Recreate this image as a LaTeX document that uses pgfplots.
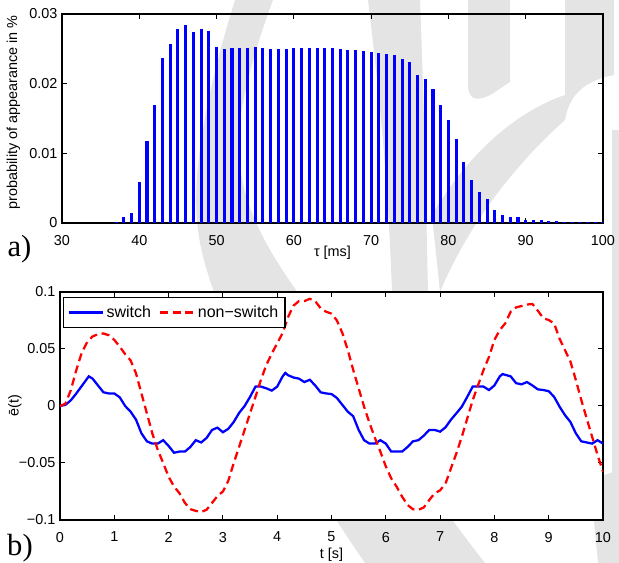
\documentclass[border=0pt]{standalone}
\usepackage{fontspec}
\setmainfont{Liberation Sans}
\newfontfamily\labelserif{Liberation Serif}
\usepackage{pgfplots}
\usepackage{pgfplotstable}
\pgfplotsset{compat=1.18}

\definecolor{wm}{RGB}{228,228,228}
\definecolor{mblue}{RGB}{0,0,255}
\definecolor{mred}{RGB}{255,0,0}

% stem data: tau [ms], probability
\pgfplotstableread{
tau p
30 0.00004
31 0.00004
32 0.00004
33 0.00004
34 0.00004
35 0.00004
36 0.00004
37 0.0001
38 0.00086
39 0.0014
40 0.0059
41 0.0118
42 0.0170
43 0.0237
44 0.0257
45 0.0278
46 0.0284
47 0.0274
48 0.0278
49 0.0275
50 0.0252
51 0.0250
52 0.0251
53 0.0251
54 0.0251
55 0.0252
56 0.0251
57 0.0250
58 0.0250
59 0.0250
60 0.0251
61 0.0251
62 0.0251
63 0.0251
64 0.0251
65 0.0251
66 0.0250
67 0.0249
68 0.0249
69 0.0247
70 0.0245
71 0.0244
72 0.0242
73 0.0241
74 0.0236
75 0.0231
76 0.0212
77 0.0207
78 0.0192
79 0.0170
80 0.0148
81 0.0120
82 0.0087
83 0.0061
84 0.0044
85 0.0034
86 0.0019
87 0.0011
88 0.0009
89 0.0008
90 0.0005
91 0.0005
92 0.0004
93 0.0003
94 0.0003
95 0.0001
96 0.0001
97 0.0001
98 0.0001
99 0.0001
100 0.0001
}\stemdata

\pgfplotstableread{
t e
0 0
0.1 0.001
0.2 0.005
0.3 0.011
0.4 0.0175
0.53 0.026
0.6 0.024
0.7 0.018
0.8 0.012
0.9 0.011
1.0 0.011
1.1 0.0076
1.2 0
1.3 -0.005
1.4 -0.012
1.5 -0.024
1.6 -0.031
1.7 -0.033
1.8 -0.033
1.9 -0.030
2.0 -0.035
2.1 -0.041
2.2 -0.040
2.3 -0.040
2.4 -0.036
2.5 -0.030
2.6 -0.032
2.7 -0.028
2.8 -0.021
2.9 -0.019
3.0 -0.023
3.1 -0.020
3.2 -0.014
3.3 -0.006
3.4 0
3.5 0.008
3.6 0.017
3.7 0.017
3.8 0.0155
3.9 0.0135
4.0 0.017
4.1 0.026
4.15 0.029
4.2 0.027
4.3 0.025
4.4 0.024
4.5 0.021
4.6 0.023
4.7 0.018
4.8 0.012
4.9 0.011
5.0 0.0105
5.1 0.007
5.2 0.001
5.3 -0.005
5.4 -0.009
5.5 -0.021
5.6 -0.030
5.7 -0.033
5.8 -0.033
5.9 -0.030
6.0 -0.033
6.1 -0.040
6.2 -0.040
6.3 -0.040
6.4 -0.036
6.5 -0.031
6.6 -0.030
6.7 -0.026
6.8 -0.021
6.9 -0.021
7.0 -0.0225
7.1 -0.0187
7.2 -0.012
7.3 -0.0064
7.4 -0.0006
7.5 0.008
7.6 0.017
7.7 0.017
7.8 0.017
7.9 0.014
8.0 0.018
8.1 0.026
8.15 0.028
8.3 0.026
8.4 0.020
8.5 0.019
8.6 0.021
8.7 0.018
8.8 0.0146
8.9 0.014
9.0 0.013
9.1 0.008
9.2 -0.0006
9.3 -0.008
9.4 -0.014
9.5 -0.024
9.6 -0.031
9.7 -0.032
9.8 -0.033
9.9 -0.030
10 -0.033
}\switchdata

\pgfplotstableread{
t e
0 0
0.1 0.002
0.2 0.014
0.3 0.0315
0.4 0.0467
0.5 0.056
0.6 0.061
0.7 0.063
0.8 0.0636
0.9 0.062
1.0 0.058
1.1 0.052
1.2 0.0455
1.3 0.040
1.4 0.0286
1.5 0.011
1.6 -0.0064
1.7 -0.024
1.8 -0.0385
1.9 -0.050
2.0 -0.062
2.1 -0.0707
2.2 -0.0765
2.3 -0.085
2.4 -0.0905
2.5 -0.092
2.6 -0.093
2.7 -0.091
2.8 -0.085
2.9 -0.079
3.0 -0.075
3.1 -0.0655
3.2 -0.050
3.3 -0.0356
3.4 -0.021
3.5 -0.0064
3.6 0.008
3.7 0.023
3.8 0.036
3.9 0.046
4.0 0.055
4.1 0.064
4.2 0.078
4.3 0.088
4.4 0.092
4.5 0.092
4.6 0.094
4.7 0.092
4.8 0.0857
4.9 0.0827
5.0 0.081
5.1 0.075
5.2 0.064
5.3 0.049
5.4 0.0316
5.5 0.0155
5.6 -0.0006
5.7 -0.015
5.8 -0.028
5.9 -0.040
6.0 -0.053
6.1 -0.0635
6.2 -0.0708
6.3 -0.0795
6.4 -0.0868
6.5 -0.0906
6.6 -0.091
6.7 -0.089
6.8 -0.0825
6.9 -0.0766
7.0 -0.074
7.1 -0.068
7.2 -0.0547
7.3 -0.0415
7.4 -0.027
7.5 -0.011
7.6 0.005
7.7 0.0184
7.8 0.0316
7.9 0.043
8.0 0.058
8.1 0.0667
8.2 0.0725
8.3 0.0827
8.4 0.0865
8.5 0.0877
8.6 0.089
8.7 0.0895
8.8 0.0836
8.9 0.077
9.0 0.0754
9.1 0.0725
9.2 0.059
9.3 0.049
9.4 0.039
9.5 0.0228
9.6 0.0053
9.7 -0.011
9.8 -0.027
9.9 -0.043
10 -0.0576
}\nonswitchdata

\pgfplotsset{
  mstyle/.style={
    scale only axis,
    axis line style={line width=0.9pt},
    every tick/.style={black, line width=0.75pt},
    tick align=inside,
    major tick length=3.5pt,
    /pgf/number format/assume math mode=true,
    scaled ticks=false,
    xticklabel style={yshift=-5.5pt},
  },
}

\begin{document}
\begin{tikzpicture}[font=\fontsize{10.8}{13}\selectfont]
\path[use as bounding box] (0,0) rectangle (464.25pt,422.25pt);

% light watermark behind the plots (pixel coordinates, y downwards)
\begin{scope}[x=0.75pt, y=-0.75pt, yshift=422.25pt]
  \fill[wm] (235,0) .. controls (210,80) and (190,170) .. (198,230)
    .. controls (204,280) and (240,380) .. (365,563) -- (485,563)
    .. controls (420,480) and (340,360) .. (303,300)
    .. controls (260,240) and (232,190) .. (240,120)
    .. controls (248,70) and (262,30) .. (273,0) -- cycle;
  \fill[wm] (368,0) -- (420,0) .. controls (424,100) and (426,200) .. (428,292)
    -- (392,292) .. controls (388,180) and (380,100) .. (368,0) -- cycle;
  \fill[wm] (468,0) -- (468,85) .. controls (468,102) and (480,102) .. (495,92)
    -- (510,82) -- (510,0) -- cycle;
  \fill[wm] (440,292) .. controls (470,220) and (520,160) .. (565,120)
    -- (565,95) .. controls (520,110) and (470,150) .. (432,215) -- cycle;
  \fill[wm] (565,0) -- (614,0) -- (614,75) .. controls (590,80) and (570,90) .. (565,120) -- cycle;
  \fill[wm] (612,130) -- (619,130) -- (619,563) -- (612,563) -- cycle;
  \fill[wm] (590,480) -- (619,470) -- (619,563) -- (598,563) -- cycle;
\end{scope}

\begin{axis}[mstyle,
  at={(46.5pt,255pt)}, anchor=south west,
  width=405.75pt, height=156.75pt,
  xmin=30, xmax=100, ymin=0, ymax=0.03,
  xtick={30,40,...,100},
  ytick={0,0.01,0.02,0.03},
  yticklabels={0,0.01,0.02,0.03},
  xlabel={τ [ms]},
  xlabel style={at={(axis description cs:0.5,0)}, anchor=north, inner sep=0pt, yshift=-17pt},
  ylabel={probability of appearance in \%},
  ylabel style={at={(axis description cs:-0.09,0.53)}, anchor=center},
]
\addplot[ycomb, mblue, line width=2.3pt] table[x=tau, y=p] {\stemdata};
\end{axis}

\begin{axis}[mstyle,
  at={(45pt,32.25pt)}, anchor=south west,
  width=407.25pt, height=171pt,
  axis background/.style={fill=white},
  xmin=0, xmax=10, ymin=-0.1, ymax=0.1,
  xtick={0,1,...,10},
  ytick={-0.1,-0.05,0,0.05,0.1},
  yticklabels={−0.1,−0.05,0,0.05,0.1},
  xlabel={t [s]},
  xlabel style={at={(axis description cs:0.5,0)}, anchor=north, inner sep=0pt, yshift=-20.5pt},
  ylabel={ē(t)},
  ylabel style={at={(axis description cs:-0.083,0.5)}, anchor=center},
  legend columns=2,
  legend style={at={(axis description cs:0.0055,0.978)}, anchor=north west,
    draw=black, line width=0.9pt, inner xsep=3pt, inner ysep=4pt,
    font=\fontsize{12}{14}\selectfont,
    /tikz/every even column/.append style={column sep=4pt}},
  legend image code/.code={\draw[#1] (0pt,0pt) -- (25.5pt,0pt);},
]
\addplot[mblue, line width=1.7pt] table[x=t, y=e] {\switchdata};
\addlegendentry{switch}
\addplot[mred, line width=1.7pt, dash pattern=on 6pt off 3.5pt] table[x=t, y=e] {\nonswitchdata};
\addlegendentry{non−switch}
\end{axis}

\node[font=\labelserif\fontsize{23}{23}\selectfont] at (14.6pt,235.5pt) {a)};
\node[font=\labelserif\fontsize{23}{23}\selectfont] at (15pt,11.25pt) {b)};
\end{tikzpicture}
\end{document}
